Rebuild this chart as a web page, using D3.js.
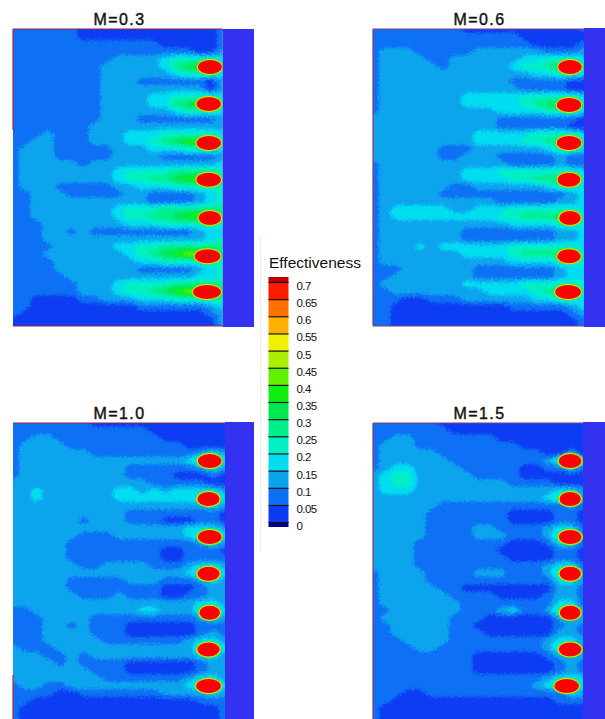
<!DOCTYPE html>
<html lang="en">
<head>
<meta charset="utf-8">
<script src="https://cdn.jsdelivr.net/npm/d3@7"></script>
<style>
  html, body { margin: 0; padding: 0; background: #fff; }
  svg { display: block; }
  text { font-family: "Liberation Sans", Arial, sans-serif; fill: #111; }
</style>
</head>
<body>
<div id="chart"></div>
<script>
// effectiveness, as band number per grid node (band n = n*0.05 .. (n+1)*0.05)
var effM03 = [
[1,1,1,1,1,1,0,0,0,0,0,0,0,0,0,0,0,0,1],
[1,1,1,1,1,1,0,0,0,0,0,0,0,0,0,0,0,0,1],
[1,1,1,1,1,1,1,1,1,1,1,1,1,0,0,0,0,0,1],
[1,1,1,1,1,1,1,1,1,1,1,1,1,1,1,1,0,0,2],
[1,1,1,1,1,1,1,1,1,2,2,2,2,3,4,4,4,4,3],
[1,1,1,1,1,1,1,1,2,2,2,2,2,3,5,6,7,7,5],
[1,1,1,1,1,1,1,1,2,2,2,2,2,2,3,4,4,4,3],
[1,1,1,1,1,1,1,1,2,2,2,1,1,1,1,1,1,0,2],
[1,1,1,1,1,1,1,1,2,2,2,2,2,2,2,2,2,0,2],
[1,1,1,1,1,1,1,1,2,2,2,2,3,3,4,4,4,4,3],
[1,1,1,1,1,1,1,1,2,2,2,2,3,3,5,6,7,7,5],
[1,1,1,1,1,1,1,1,2,2,2,2,2,2,3,4,4,4,3],
[1,1,1,1,1,1,1,1,2,2,2,1,1,1,1,1,1,1,2],
[1,1,1,1,1,1,1,2,2,2,2,2,2,2,2,2,2,2,2],
[1,1,1,2,1,1,1,2,2,2,3,3,3,4,4,4,4,4,3],
[1,1,2,2,1,1,1,2,2,2,3,3,4,5,6,7,7,7,5],
[1,2,2,2,1,1,1,1,1,2,2,2,3,3,3,4,4,4,3],
[1,2,2,2,1,1,1,1,1,2,2,2,2,1,1,1,1,1,2],
[1,2,2,2,2,2,1,2,2,2,2,2,2,2,2,2,2,2,3],
[1,2,2,2,2,2,2,2,2,3,4,4,4,4,5,5,5,5,4],
[1,2,2,2,2,2,2,2,2,3,4,4,5,5,6,7,7,7,5],
[1,2,2,2,1,1,1,1,1,2,2,3,3,3,4,4,4,4,4],
[1,1,2,2,2,1,1,1,1,1,2,2,1,1,1,1,2,3,4],
[1,1,2,2,2,2,2,2,2,2,2,2,1,1,1,1,2,3,4],
[1,1,2,2,2,2,2,2,2,3,4,4,4,5,5,5,5,5,5],
[1,1,2,2,2,2,2,2,2,3,4,4,5,5,6,7,7,7,5],
[1,1,1,2,2,2,2,2,2,2,3,3,3,4,4,4,4,4,4],
[1,1,1,2,2,1,2,1,1,1,1,1,1,1,1,1,2,3,3],
[1,1,1,2,2,2,2,2,2,2,2,2,2,2,2,2,2,3,4],
[1,1,1,1,2,2,2,2,2,3,3,4,4,5,5,5,5,5,5],
[1,1,1,2,2,2,2,2,2,2,3,4,5,6,7,8,8,8,5],
[1,1,1,1,2,2,2,2,2,2,2,3,3,4,4,4,4,4,4],
[1,1,1,1,2,2,2,2,2,2,2,1,1,1,1,1,2,3,4],
[1,1,1,1,1,2,2,2,2,2,2,2,2,2,2,2,3,3,4],
[1,1,1,1,1,1,2,2,2,3,4,4,4,4,5,5,5,5,5],
[1,1,1,1,1,1,2,2,2,3,4,4,5,6,7,8,8,8,6],
[1,1,0,0,0,0,1,1,2,2,2,3,3,3,4,4,4,4,5],
[1,1,0,0,0,0,0,0,0,0,0,1,1,1,1,1,1,2,3],
[1,0,0,0,0,0,0,0,0,0,0,0,0,0,0,0,0,1,2],
[0,0,0,0,0,0,0,0,0,0,0,0,0,0,0,0,0,0,2],
[0,0,0,0,0,0,0,0,0,0,0,0,0,0,0,0,0,0,2]
];
var effM06 = [
[1,1,1,1,1,1,1,1,0,0,0,0,0,0,0,0,0,0,1],
[1,1,1,1,1,1,1,1,1,1,1,1,1,0,0,0,0,0,0],
[1,1,1,1,1,1,1,1,1,1,1,1,1,1,0,0,0,0,1],
[1,2,2,2,1,1,1,1,1,2,2,2,2,2,2,1,1,1,2],
[1,2,2,2,2,1,1,2,2,2,2,2,2,3,3,4,4,4,3],
[1,2,2,2,2,2,1,2,2,2,2,2,3,4,4,5,6,6,4],
[1,2,2,2,2,2,2,2,2,2,2,2,2,2,3,3,4,4,3],
[1,2,2,2,2,2,2,2,2,2,2,2,1,1,1,1,1,0,0],
[1,2,2,2,2,2,2,2,2,2,2,2,2,1,1,1,1,0,0],
[1,2,2,2,2,2,2,2,3,3,3,3,3,4,4,4,4,4,3],
[1,2,2,2,2,2,2,2,3,3,3,3,3,4,5,6,6,6,4],
[1,2,2,2,2,2,2,2,2,2,2,3,3,3,3,4,4,4,3],
[2,2,2,2,2,2,2,2,2,2,2,1,1,1,1,1,1,1,0],
[2,2,2,2,2,2,2,2,2,2,2,1,1,1,1,1,1,0,0],
[2,2,2,2,2,2,2,2,2,3,3,3,3,3,4,4,4,4,3],
[2,2,2,2,2,2,2,2,2,3,3,3,3,4,4,5,6,6,4],
[2,2,2,2,2,2,1,1,1,2,2,2,2,2,2,3,4,4,3],
[2,2,2,2,2,2,1,1,2,2,2,1,1,1,1,1,2,1,1],
[1,2,2,2,2,2,2,2,2,2,2,2,1,1,1,1,2,1,1],
[1,2,2,2,2,2,2,2,3,3,3,4,4,4,4,4,4,4,3],
[1,2,2,2,2,2,2,2,3,3,3,3,4,4,5,5,6,6,4],
[1,2,2,2,2,2,2,1,1,2,2,2,2,2,2,3,4,4,3],
[1,2,2,2,2,2,1,1,1,1,1,1,1,1,1,1,1,2,3],
[1,2,2,2,2,2,2,2,2,2,2,1,1,1,1,1,2,2,3],
[1,2,3,3,3,3,3,2,2,3,3,3,4,4,4,4,4,4,3],
[1,2,3,3,3,3,3,3,3,3,3,4,4,5,5,5,6,6,4],
[1,2,2,2,2,2,2,2,2,2,2,2,3,3,3,3,4,4,4],
[1,2,2,2,2,2,2,2,1,1,1,1,1,1,1,1,2,2,3],
[1,2,2,2,2,2,2,2,1,1,1,1,1,1,1,1,2,2,3],
[1,2,2,2,3,2,3,3,3,3,3,3,4,4,4,4,4,4,3],
[1,2,2,2,2,2,2,2,3,3,3,3,4,5,5,5,6,6,4],
[1,2,2,2,2,2,2,2,2,2,2,2,3,3,3,3,4,4,4],
[1,1,1,2,2,2,2,2,2,1,1,1,1,1,1,1,2,3,3],
[1,1,2,2,2,2,2,2,2,1,1,1,1,1,1,1,2,3,3],
[1,2,2,2,2,2,2,2,3,3,3,3,3,4,4,4,4,4,4],
[1,1,2,2,2,2,2,2,2,2,3,3,3,3,4,5,6,6,4],
[1,1,1,0,0,1,1,1,2,2,2,2,2,2,3,3,4,4,3],
[1,1,0,0,0,0,0,0,0,0,0,0,1,1,1,1,1,2,3],
[1,1,0,0,0,0,0,0,0,0,0,0,0,0,0,0,0,1,2],
[1,1,0,0,0,0,0,0,0,0,0,0,0,0,0,0,0,0,1],
[1,1,0,0,0,0,0,0,0,0,0,0,0,0,0,0,0,0,1]
];
var effM10 = [
[1,1,1,1,1,1,1,0,0,0,0,0,0,0,0,0,0,0,0],
[1,1,1,1,1,1,1,1,1,1,1,1,0,0,0,0,0,0,0],
[1,1,2,2,1,1,1,1,1,1,1,1,1,0,0,0,0,0,0],
[1,2,2,2,2,1,1,1,1,1,1,1,1,1,1,0,0,0,0],
[1,2,2,2,2,2,2,1,1,1,1,1,1,1,1,1,2,3,2],
[1,2,2,2,2,2,2,2,2,2,2,2,2,2,2,3,5,5,3],
[1,2,2,2,2,2,2,2,2,2,1,1,1,1,1,1,2,3,2],
[1,2,2,2,2,2,2,2,2,2,1,1,1,1,0,0,0,1,0],
[2,2,2,2,2,2,2,2,2,2,2,2,1,1,1,1,1,0,0],
[2,2,3,2,2,2,2,2,2,3,3,2,3,2,3,3,3,3,2],
[2,2,3,2,2,2,2,2,2,3,3,3,3,3,3,3,5,5,3],
[2,2,2,2,2,2,2,2,2,2,2,2,2,2,2,2,2,3,2],
[2,2,2,2,2,2,2,2,2,2,1,1,1,1,1,1,1,1,0],
[2,2,2,2,2,2,1,2,2,2,1,1,1,0,0,0,1,1,0],
[2,2,2,2,2,2,2,2,2,2,2,2,2,2,2,3,3,3,2],
[2,2,2,2,2,2,1,1,1,2,2,2,2,2,2,3,5,5,3],
[2,2,2,2,2,1,1,1,1,1,1,1,1,1,1,1,2,3,2],
[2,2,2,2,2,1,1,1,1,1,1,1,1,0,0,1,1,1,0],
[2,2,2,2,2,1,1,1,1,1,1,1,1,0,0,1,1,1,1],
[2,2,2,2,2,2,1,1,2,2,2,2,1,1,1,2,3,3,2],
[2,2,2,2,2,2,2,2,2,2,2,2,2,2,2,3,5,5,3],
[2,2,2,2,2,1,1,1,1,1,2,2,2,1,1,1,2,3,2],
[2,2,2,2,2,1,1,1,1,1,1,1,1,0,0,0,1,2,2],
[2,2,2,2,2,2,1,1,1,2,1,1,1,0,0,1,1,2,2],
[2,2,2,2,2,2,2,2,2,2,2,2,2,2,2,2,3,3,2],
[1,1,2,2,2,2,2,2,2,2,2,3,3,2,2,2,5,5,3],
[1,1,1,2,2,2,2,1,1,1,1,1,1,1,1,1,2,3,2],
[1,1,1,2,2,1,2,1,1,1,0,0,0,0,0,0,1,1,1],
[1,1,1,2,2,2,2,1,1,1,0,0,0,0,0,0,1,2,1],
[1,1,1,2,2,2,2,2,1,1,1,1,1,1,1,2,3,3,2],
[2,1,1,1,2,2,2,2,2,2,2,2,2,2,2,2,5,5,3],
[2,2,2,1,1,2,1,2,2,2,2,2,2,2,2,2,3,3,2],
[2,2,2,2,1,2,1,1,1,1,0,0,0,0,0,0,1,2,2],
[2,2,2,2,2,2,2,1,1,1,0,0,0,0,0,0,1,2,2],
[2,2,2,2,2,2,2,2,1,1,1,1,1,1,1,2,3,3,2],
[1,2,2,1,1,2,2,2,2,2,2,2,2,2,2,3,5,5,3],
[1,1,1,1,0,0,1,1,1,1,1,1,1,2,2,2,2,3,2],
[1,1,0,0,0,0,0,0,0,0,0,0,0,0,0,0,1,1,1],
[1,0,0,0,0,0,0,0,0,0,0,0,0,0,0,0,0,0,1],
[1,0,0,0,0,0,0,0,0,0,0,0,0,0,0,0,0,0,1],
[1,0,0,0,0,0,0,0,0,0,0,0,0,0,0,0,0,0,1]
];
var effM15 = [
[1,1,1,1,1,1,0,0,0,0,0,0,0,0,0,0,0,0,0],
[1,1,1,1,1,1,1,0,0,0,0,0,0,0,0,0,0,0,0],
[1,1,2,2,1,1,1,1,1,1,1,0,0,0,0,0,0,0,0],
[1,2,2,2,1,1,1,1,1,1,1,1,1,0,0,0,0,0,0],
[1,2,2,2,2,2,1,1,1,1,1,1,1,1,1,0,0,2,0],
[1,2,2,2,2,2,2,1,1,1,1,1,1,1,1,2,5,5,3],
[1,2,3,3,2,2,2,2,1,1,1,1,1,0,0,1,1,3,1],
[2,3,4,4,2,2,2,2,2,1,1,1,1,0,0,0,0,0,0],
[2,3,4,4,2,2,2,2,2,2,2,2,1,1,1,1,0,0,0],
[2,3,3,3,2,2,2,2,2,2,2,2,2,2,2,2,3,3,2],
[2,2,2,2,2,2,2,2,2,2,2,2,2,2,2,3,5,5,2],
[2,2,2,2,2,2,1,1,1,1,1,1,1,1,1,1,1,2,1],
[2,2,2,2,2,1,1,1,1,1,1,1,0,0,0,0,1,1,0],
[2,2,2,2,2,1,1,1,1,1,1,1,0,0,0,0,1,1,0],
[2,2,2,2,2,1,1,1,1,2,2,1,1,1,1,2,3,3,1],
[2,2,2,2,2,1,1,1,1,2,2,2,1,1,1,2,5,5,1],
[2,2,2,2,1,1,1,1,1,1,1,1,0,0,0,1,3,3,1],
[2,2,2,2,1,1,1,1,1,1,1,0,0,0,0,0,1,1,0],
[2,2,2,2,1,1,1,1,1,1,1,1,0,0,0,0,1,1,0],
[2,2,2,2,1,1,1,1,1,1,1,1,1,1,1,2,3,3,1],
[1,2,2,2,2,1,1,1,1,2,2,2,1,1,1,2,5,5,2],
[1,2,2,2,2,1,1,1,1,1,1,1,1,1,1,1,3,3,2],
[1,2,2,2,2,2,1,1,0,0,0,0,0,0,0,0,2,2,1],
[1,2,2,2,2,2,2,1,1,1,1,0,0,0,0,1,2,2,1],
[1,2,2,2,2,2,2,2,1,1,1,1,1,1,1,1,3,3,1],
[1,1,2,2,2,2,2,2,1,1,1,2,3,1,1,2,5,5,2],
[1,2,2,2,2,2,2,1,1,1,0,0,0,0,0,0,2,2,2],
[1,1,2,2,2,2,2,1,1,0,0,0,0,0,0,0,1,2,1],
[1,1,2,2,2,2,2,1,1,1,0,0,0,0,0,0,2,2,1],
[1,1,1,2,2,2,2,1,1,1,1,1,1,1,1,2,3,3,2],
[1,1,1,1,2,2,1,1,1,1,1,1,1,1,1,2,5,5,2],
[1,1,1,1,1,1,1,1,1,0,0,0,0,0,0,1,2,2,2],
[1,1,1,1,1,1,1,1,1,0,0,0,0,0,0,0,1,2,1],
[1,1,1,1,1,1,1,1,1,0,0,0,0,0,0,0,1,2,1],
[1,1,1,1,1,1,1,1,1,1,1,1,1,1,1,2,3,3,3],
[1,1,1,1,1,1,1,1,1,1,1,1,1,1,2,3,5,5,3],
[1,1,1,0,0,1,1,1,1,1,1,1,1,1,1,1,1,3,2],
[1,1,0,0,0,0,0,0,0,0,0,0,0,0,0,0,1,1,1],
[1,0,0,0,0,0,0,0,0,0,0,0,0,0,0,0,0,0,0],
[1,0,0,0,0,0,0,0,0,0,0,0,0,0,0,0,0,0,0],
[1,0,0,0,0,0,0,0,0,0,0,0,0,0,0,0,0,0,0]
];

// cooling holes, in grid node units
var holeRow03 = [5.07, 10, 15.2, 20.1, 25.2, 30.3, 35.07];
var holeCol03 = [16.9, 16.8, 16.8, 16.8, 16.9, 16.7, 16.65];
var holeLen03 = [2.3, 2.35, 2.35, 2.35, 2.2, 2.45, 2.65];
var holeRow06 = [5.07, 10.13, 15.2, 20.1, 25.2, 30.3, 35.07];
var holeCol06 = [16.8, 16.72, 16.72, 16.72, 16.8, 16.72, 16.64];
var holeLen06 = [2.25, 2.35, 2.35, 2.2, 2.1, 2.25, 2.45];
var holeRow10 = [5.07, 10.13, 15.2, 20.1, 25.3, 30.2, 35.07];
var holeCol10 = [16.7, 16.6, 16.7, 16.6, 16.7, 16.6, 16.6];
var holeLen10 = [2.25, 2.15, 2.25, 2.15, 2, 2.15, 2.35];
var holeRow15 = [5.07, 10.13, 15.2, 20.1, 25.3, 30.2, 35.07];
var holeCol15 = [16.9, 16.9, 16.9, 16.9, 16.9, 16.9, 16.6];
var holeLen15 = [2.2, 2.1, 2.2, 2.1, 2.05, 2.2, 2.35];
var holeDepth = 2.25;

var panelNames = ["M=0.3", "M=0.6", "M=1.0", "M=1.5"];
var legendTicks = [0, 0.05, 0.1, 0.15, 0.2, 0.25, 0.3, 0.35, 0.4, 0.45, 0.5, 0.55, 0.6, 0.65, 0.7];
var legendLabels = ["0", "0.05", "0.1", "0.15", "0.2", "0.25", "0.3", "0.35", "0.4", "0.45", "0.5", "0.55", "0.6", "0.65", "0.7"];
var bandColors = ["#0a3cf2", "#0a70f5", "#0aa4ee", "#00dcf0", "#00f0c4", "#00ee8c", "#00e850", "#10f010",
                  "#60f000", "#a8f000", "#f0f000", "#ffb000", "#ff7000", "#ff1a00"];

var width = 605, height = 719;
var bandStep = 0.05;

var svg = d3.select("#chart").append("svg")
    .attr("width", width)
    .attr("height", height);

// roughens the band edges the way the scanned picture has them
var rough = svg.append("filter").attr("id", "rough")
    .attr("x", "-5%").attr("y", "-5%").attr("width", "110%").attr("height", "110%");
rough.append("feGaussianBlur").attr("in", "SourceGraphic").attr("stdDeviation", 1.1).attr("result", "soft");
rough.append("feTurbulence").attr("type", "fractalNoise").attr("baseFrequency", 0.45).attr("numOctaves", 2).attr("seed", 4).attr("result", "noise");
rough.append("feDisplacementMap").attr("in", "soft").attr("in2", "noise").attr("scale", 7)
    .attr("xChannelSelector", "R").attr("yChannelSelector", "G");

// faint line next to the legend
svg.append("line")
    .attr("x1", 260.5).attr("x2", 260.5).attr("y1", 235).attr("y2", 552)
    .attr("stroke", "#fbe8e8");

var panels = [
    {name: panelNames[0], grid: effM03, row: holeRow03, col: holeCol03, len: holeLen03, left: 13,  right: 222.7, top: 29,  bottom: 326, blockEnd: 254, blockTop: 29},
    {name: panelNames[1], grid: effM06, row: holeRow06, col: holeCol06, len: holeLen06, left: 373, right: 584,   top: 29,  bottom: 326, blockEnd: 605, blockTop: 28},
    {name: panelNames[2], grid: effM10, row: holeRow10, col: holeCol10, len: holeLen10, left: 13,  right: 225,   top: 423, bottom: 719, blockEnd: 254, blockTop: 422},
    {name: panelNames[3], grid: effM15, row: holeRow15, col: holeCol15, len: holeLen15, left: 373, right: 583,   top: 423, bottom: 719, blockEnd: 605, blockTop: 422}
];

panels.forEach(function(p, n) {
    var rows = p.grid.length, cols = p.grid[0].length;
    var xs = d3.scaleLinear().domain([0, cols - 1]).range([p.left, p.right]);
    var ys = d3.scaleLinear().domain([0, rows - 1]).range([p.top, p.top + 7.5 * (rows - 1)]);

    var values = p.grid.flat().map(function(b) { return (b + 0.5) * bandStep; });
    var contours = d3.contours()
        .size([cols, rows])
        .thresholds(d3.range(0, bandColors.length).map(function(i) { return i * bandStep; }))(values);

    var path = d3.geoPath(d3.geoTransform({
        point: function(x, y) { this.stream.point(xs(x - 0.5), ys(y - 0.5)); }
    }));

    svg.append("clipPath").attr("id", "clip" + n)
        .append("rect")
        .attr("x", p.left).attr("y", p.top)
        .attr("width", p.right - p.left).attr("height", p.bottom - p.top);

    var g = svg.append("g");
    var plot = g.append("g").attr("clip-path", "url(#clip" + n + ")");

    plot.append("g")
        .attr("filter", "url(#rough)")
        .selectAll("path")
        .data(contours)
        .enter()
        .append("path")
        .attr("d", path)
        .attr("fill", function(d) { return bandColors[Math.round(d.value / bandStep)]; });

    // holes: green rim, yellow rim, red core
    var rims = [{inset: 0, color: "#58f000"}, {inset: 0.7, color: "#f0e800"}, {inset: 1.5, color: "#ff0000"}];
    rims.forEach(function(rim) {
        plot.selectAll(null)
            .data(p.row)
            .enter()
            .append("ellipse")
            .attr("cx", function(d, i) { return xs(p.col[i]); })
            .attr("cy", function(d) { return ys(d); })
            .attr("rx", function(d, i) { return (xs(p.len[i]) - xs(0)) / 2 - rim.inset; })
            .attr("ry", (ys(holeDepth) - ys(0)) / 2 - rim.inset)
            .attr("fill", rim.color);
    });

    // solid block right of the plate
    g.append("rect")
        .attr("x", p.right).attr("y", p.blockTop)
        .attr("width", p.blockEnd - p.right).attr("height", p.bottom - p.blockTop + 1)
        .attr("fill", "#3232f0");

    // leftover frame pieces
    var frame = n === 1 || n === 3 ? "#8a3a70" : "#a02040";
    g.append("line")
        .attr("x1", p.left).attr("x2", p.right).attr("y1", p.top).attr("y2", p.top)
        .attr("stroke", frame).attr("stroke-width", 1.2);
    if (p.bottom < 700) {
        g.append("line")
            .attr("x1", p.left).attr("x2", p.right).attr("y1", p.bottom).attr("y2", p.bottom)
            .attr("stroke", frame).attr("stroke-width", 1.2);
    }
    if (n === 1 || n === 3) {
        g.append("line")
            .attr("x1", p.left).attr("x2", p.left).attr("y1", p.top).attr("y2", p.bottom)
            .attr("stroke", frame).attr("stroke-width", 1.2);
    } else {
        var leftEnd = n === 0 ? [29, 130] : [675, 719];
        g.append("line")
            .attr("x1", p.left).attr("x2", p.left).attr("y1", leftEnd[0]).attr("y2", leftEnd[1])
            .attr("stroke", "#c02030").attr("stroke-width", 1.2);
    }

    svg.append("text")
        .attr("x", n % 2 ? 479.5 : 119.5)
        .attr("y", p.top - 4)
        .attr("text-anchor", "middle")
        .attr("font-size", 16)
        .attr("letter-spacing", 1.4)
        .attr("stroke", "#111").attr("stroke-width", 0.4)
        .text(p.name);
});

// legend
var legendY = d3.scaleLinear().domain([0, 0.7]).range([522, 282]);
var legend = svg.append("g");

legend.append("text")
    .attr("x", 269).attr("y", 268)
    .attr("font-size", 15.5)
    .text("Effectiveness");

legend.selectAll("rect.band")
    .data(bandColors)
    .enter()
    .append("rect")
    .attr("class", "band")
    .attr("x", 268.5).attr("width", 20)
    .attr("y", function(d, i) { return legendY((i + 1) * bandStep); })
    .attr("height", legendY(0) - legendY(bandStep))
    .attr("fill", function(d) { return d; });

legend.append("rect").attr("x", 268.5).attr("width", 20).attr("y", legendY(0)).attr("height", 5).attr("fill", "#000090");
legend.append("rect").attr("x", 268.5).attr("width", 20).attr("y", legendY(0.7) - 5).attr("height", 5).attr("fill", "#c00000");

var legendAxis = d3.axisRight(legendY)
    .tickValues(legendTicks)
    .tickSize(20)
    .tickFormat(function(d, i) { return legendLabels[i]; });

var axisG = legend.append("g")
    .attr("transform", "translate(268.5,0)")
    .call(legendAxis);
axisG.select(".domain").remove();
axisG.selectAll("line").attr("stroke", "#101010").attr("stroke-width", 1.2);
axisG.selectAll("text")
    .attr("x", 28).attr("dy", "0.65em")
    .attr("font-family", "'Liberation Sans', Arial, sans-serif")
    .attr("font-size", 11.5)
    .attr("letter-spacing", -0.6)
    .attr("fill", "#222");
</script>
</body>
</html>
